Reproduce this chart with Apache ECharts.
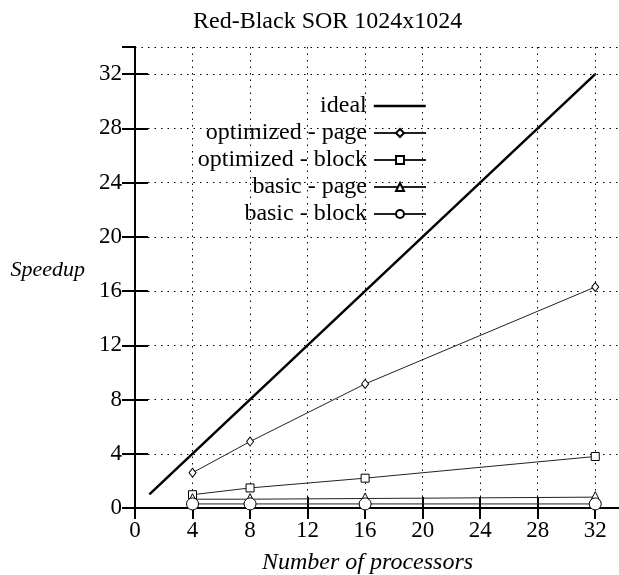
<!DOCTYPE html>
<html><head><meta charset="utf-8">
<script src="https://cdn.jsdelivr.net/npm/echarts@6/dist/echarts.min.js"></script>
<style>html,body{margin:0;padding:0;background:#fff}#c{width:619px;height:575px}</style>
</head><body><div id="c"></div>
<script>
var procs = [4, 8, 16, 32];
var idealX = [1, 32];
var idealY = [1, 32];
var optPage = [2.6, 4.9, 9.15, 16.3];
var optBlock = [0.98, 1.48, 2.2, 3.8];
var basicPage = [0.65, 0.65, 0.7, 0.8];
var basicBlock = [0.3, 0.3, 0.3, 0.3];
var seriesNames = ['ideal', 'optimized - page', 'optimized - block', 'basic - page', 'basic - block'];

var FONT = '"Liberation Serif", serif';
function pairs(xs, ys) { return xs.map(function (x, i) { return [x, ys[i]]; }); }

var chart = echarts.init(document.getElementById('c'), null, {renderer: 'canvas'});
var dotted = {show: true, lineStyle: {color: '#000', width: 1, type: [1.5, 5]}};
var legendRows = [101, 128, 155, 182, 209];
var symbols = [null, 'diamond', 'rect', 'triangle', 'circle'];
var symSizes = [0, [7, 9], 8, 11, 12];

function mkSeries(i, data, width) {
  return {
    name: seriesNames[i], type: 'line', data: data,
    symbol: symbols[i] || 'none', symbolSize: symSizes[i], showSymbol: !!symbols[i],
    lineStyle: {color: i === 0 ? '#000' : '#222', width: width},
    itemStyle: {color: '#fff', borderColor: '#000', borderWidth: 1},
    emphasis: {disabled: true}, animation: false, z: 3
  };
}

chart.setOption({
  animation: false,
  backgroundColor: '#fff',
  title: {text: 'Red-Black SOR 1024x1024', left: 188, top: 5,
    textStyle: {fontFamily: FONT, fontSize: 24, fontWeight: 'normal', color: '#000'}},
  legend: seriesNames.map(function (n, i) {
    var l = {
      data: [n], right: 187, top: legendRows[i] - 12, align: 'right', orient: 'vertical',
      itemWidth: 52, itemHeight: 10, itemGap: 0,
      textStyle: {fontFamily: FONT, fontSize: 24, color: '#000', padding: [0, 2, 0, 0]},
      selectedMode: false
    };
    if (i === 0) {
      l.itemStyle = {color: 'rgba(0,0,0,0)', borderColor: 'rgba(0,0,0,0)', borderWidth: 0};
      l.lineStyle = {width: 2.5, color: '#000'};
    }
    return l;
  }),
  grid: {left: 135, top: 47, bottom: 67, width: 489, containLabel: false, outerBoundsMode: 'none'},
  xAxis: [{
    type: 'value', min: 0, max: 34, interval: 4,
    name: 'Number of processors', nameLocation: 'middle', nameGap: 43,
    nameTextStyle: {fontFamily: FONT, fontSize: 24, fontStyle: 'italic', color: '#000', padding: [0, 24, 0, 0]},
    axisLine: {show: true, lineStyle: {color: '#000', width: 2}},
    axisTick: {show: true, inside: true, length: 11, lineStyle: {color: '#000', width: 2}},
    axisLabel: {show: true, margin: 11, showMaxLabel: false, fontFamily: FONT, fontSize: 23, color: '#000'},
    splitLine: dotted
  }, {
    type: 'value', position: 'top', min: 0, max: 34, interval: 4,
    axisLine: {show: true, lineStyle: {color: '#000', width: 2}},
    axisTick: {show: true, inside: true, length: 11, lineStyle: {color: '#000', width: 2}},
    axisLabel: {show: false}, splitLine: {show: false}
  }],
  yAxis: [{
    type: 'value', min: 0, max: 34, interval: 4,
    name: 'Speedup', nameLocation: 'middle', nameRotate: 0, nameGap: 50,
    nameTextStyle: {fontFamily: FONT, fontSize: 22, fontStyle: 'italic', color: '#000', verticalAlign: 'bottom', lineHeight: 14},
    axisLine: {show: true, lineStyle: {color: '#000', width: 2}},
    axisTick: {show: true, inside: true, length: 13, lineStyle: {color: '#000', width: 2}},
    axisLabel: {show: true, margin: 13, showMaxLabel: false, fontFamily: FONT, fontSize: 23, color: '#000'},
    splitLine: dotted
  }, {
    type: 'value', position: 'right', min: 0, max: 34, interval: 4,
    axisLine: {show: true, lineStyle: {color: '#000', width: 2}},
    axisTick: {show: true, inside: true, length: 13, lineStyle: {color: '#000', width: 2}},
    axisLabel: {show: false}, splitLine: {show: false}
  }],
  series: [
    mkSeries(0, pairs(idealX, idealY), 2.5),
    mkSeries(1, pairs(procs, optPage), 1),
    mkSeries(2, pairs(procs, optBlock), 1),
    mkSeries(3, pairs(procs, basicPage), 1),
    mkSeries(4, pairs(procs, basicBlock), 1)
  ]
});
</script></body></html>
